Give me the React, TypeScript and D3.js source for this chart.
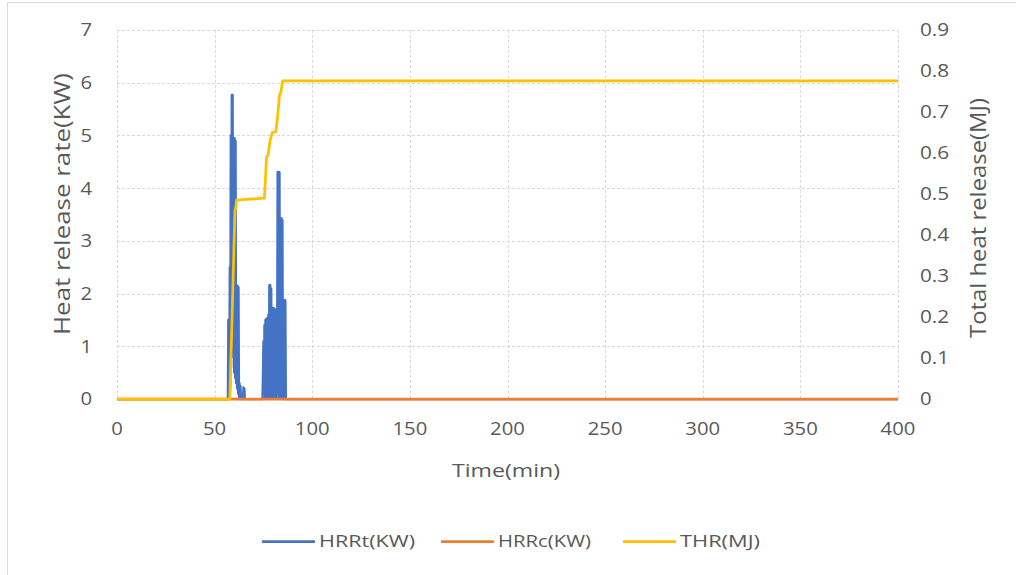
import React from "react";
import * as d3 from "d3";

const xTicks = [0, 50, 100, 150, 200, 250, 300, 350, 400];
const yLeftTicks = [0, 1, 2, 3, 4, 5, 6, 7];
const yRightTicks = [0, 0.1, 0.2, 0.3, 0.4, 0.5, 0.6, 0.7, 0.8, 0.9];

// HRRt (KW): time (min) and value
const hrrtTime = [
  0, 56.5, 56.75, 57.0, 57.25, 57.5, 57.75, 58.0, 58.25, 58.5, 58.75, 59.0, 59.25, 59.5, 59.75, 60.0, 60.25, 60.5, 60.75,
  61.0, 61.25, 61.5, 61.75, 62.0, 62.25, 62.5, 62.75, 63.0, 63.25, 63.5, 64.5, 64.75, 65.0, 65.25, 65.5,
  74.5, 74.75, 75.0, 75.25, 75.5, 75.75, 76.0, 76.25, 76.5, 76.75, 77.0, 77.25, 77.5, 77.75, 78.0, 78.25, 78.5, 78.75,
  79.0, 79.25, 79.5, 79.75, 80.0, 80.25, 80.5, 80.75, 81.0, 81.25, 81.5, 81.75, 82.0, 82.25, 82.5, 82.75, 83.0, 83.25,
  83.5, 83.75, 84.0, 84.25, 84.5, 84.75, 85.0, 85.25, 85.5, 85.75, 86.0, 86.25, 86.5, 86.75,
  400,
];
const hrrtValue = [
  0, 0, 0, 1.5, 0, 0.3, 2.5, 0.2, 5.0, 0.6, 5.77, 0.8, 5.77, 1.0, 4.95, 0.5, 4.95, 0.4, 4.9,
  0.3, 2.15, 0.2, 2.15, 0.1, 2.12, 0, 0.3, 0, 0.25, 0, 0, 0.22, 0, 0.2, 0,
  0, 0.5, 1.1, 0.1, 1.4, 0, 1.5, 0.2, 1.53, 0, 1.53, 0.1, 1.6, 0, 2.16, 0.2, 2.16, 0,
  2.1, 0.1, 1.73, 0, 1.73, 0.2, 1.72, 0, 1.7, 0.1, 0.87, 0, 0.95, 4.31, 0.1, 4.31, 0, 4.3,
  0.2, 3.43, 0, 3.43, 0.1, 3.4, 0, 1.88, 0.1, 1.88, 0, 1.87, 0, 0,
  0,
];

// HRRc (KW)
const hrrcTime = [0, 400];
const hrrcValue = [0, 0];

// THR (MJ)
const thrTime = [0, 57.8, 59.5, 60.4, 60.8, 61.2, 75.5, 76.6, 77.4, 78.3, 79.5, 81.4, 82.3, 83.2, 84.0, 84.8, 400];
const thrValue = [0, 0, 0.3, 0.46, 0.465, 0.485, 0.49, 0.59, 0.595, 0.628, 0.65, 0.652, 0.69, 0.74, 0.75, 0.776, 0.776];

const seriesNames = ["HRRt(KW)", "HRRc(KW)", "THR(MJ)"];
const seriesColors = ["#4472C4", "#ED7D31", "#FFC000"];

const font = "'Open Sans', Lato, sans-serif";
const textColor = "#595959";
const gridColor = "#d9d9d9";

function numWidth(s: string) {
  let w = 0;
  for (const c of s) w += c === "." ? 6 : 11.6;
  return w;
}

export default function App() {
  const W = 1016;
  const H = 575;
  const left = 117;
  const right = 898;
  const top = 30;
  const bottom = 399;

  const x = d3.scaleLinear().domain([0, 400]).range([left, right]);
  const yL = d3.scaleLinear().domain([0, 7]).range([bottom, top]);
  const yR = d3.scaleLinear().domain([0, 0.9]).range([bottom, top]);

  const lineL = d3
    .line<[number, number]>()
    .x((d) => x(d[0]))
    .y((d) => yL(d[1]));
  const lineR = d3
    .line<[number, number]>()
    .x((d) => x(d[0]))
    .y((d) => yR(d[1]));

  const hrrt = hrrtTime.map((t, i) => [t, hrrtValue[i]] as [number, number]);
  const hrrc = hrrcTime.map((t, i) => [t, hrrcValue[i]] as [number, number]);
  const thr = thrTime.map((t, i) => [t, thrValue[i]] as [number, number]);

  const legendX = [262, 441, 623];
  const legendLen = [96, 93, 80];
  const fmtR = (v: number) => d3.format("~g")(+v.toFixed(1));

  const Num = ({ s, px, py, anchor }: { s: string; px: number; py: number; anchor: string }) => (
    <text
      x={px}
      y={py}
      dy="0.36em"
      textAnchor={anchor}
      fontFamily={font}
      fontSize={18}
      fill={textColor}
      textLength={numWidth(s)}
      lengthAdjust="spacingAndGlyphs"
    >
      {s}
    </text>
  );

  return (
    <div style={{ position: "absolute", left: 0, top: 0 }}>
      <svg width={W} height={H} style={{ display: "block", background: "#fff" }}>
        <rect x={7.5} y={2.5} width={W + 10} height={H + 10} fill="#fff" stroke={gridColor} />
        {/* grid */}
        {yLeftTicks.map((v) => (
          <line
            key={"gy" + v}
            x1={left}
            x2={right}
            y1={Math.round(yL(v)) + 0.5}
            y2={Math.round(yL(v)) + 0.5}
            stroke={gridColor}
            strokeDasharray="3,2"
          />
        ))}
        {xTicks.map((v) => (
          <line
            key={"gx" + v}
            x1={Math.round(x(v)) + 0.5}
            x2={Math.round(x(v)) + 0.5}
            y1={top}
            y2={bottom}
            stroke={gridColor}
            strokeDasharray="3,2"
          />
        ))}
        {/* series */}
        <path d={lineL(hrrt) || ""} fill="none" stroke={seriesColors[0]} strokeWidth={2.25} strokeLinejoin="round" />
        <path d={lineL(hrrc) || ""} fill="none" stroke={seriesColors[1]} strokeWidth={2.75} />
        <path d={lineR(thr) || ""} fill="none" stroke={seriesColors[2]} strokeWidth={2.75} strokeLinejoin="round" />
        {/* ticks */}
        {yLeftTicks.map((v) => (
          <Num key={"yl" + v} s={String(v)} px={92} py={yL(v)} anchor="end" />
        ))}
        {yRightTicks.map((v) => (
          <Num key={"yr" + v} s={fmtR(v)} px={920} py={yR(v)} anchor="start" />
        ))}
        {xTicks.map((v) => (
          <Num key={"xt" + v} s={String(v)} px={x(v)} py={429} anchor="middle" />
        ))}
        {/* axis titles */}
        <text
          x={506}
          y={471}
          dy="0.35em"
          textAnchor="middle"
          fontFamily={font}
          fontSize={18}
          fill={textColor}
          textLength={108}
          lengthAdjust="spacingAndGlyphs"
        >
          Time(min)
        </text>
        <g transform={`translate(62,204) scale(1.2,1) rotate(-90)`}>
          <text
            x={0}
            y={0}
            dy="0.35em"
            textAnchor="middle"
            fontFamily={font}
            fontSize={18}
            fill={textColor}
            textLength={262}
            lengthAdjust="spacingAndGlyphs"
          >
            Heat release rate(KW)
          </text>
        </g>
        <g transform={`translate(978,218) scale(1.2,1) rotate(-90)`}>
          <text
            x={0}
            y={0}
            dy="0.35em"
            textAnchor="middle"
            fontFamily={font}
            fontSize={18}
            fill={textColor}
            textLength={240}
            lengthAdjust="spacingAndGlyphs"
          >
            Total heat release(MJ)
          </text>
        </g>
        {/* legend */}
        {seriesNames.map((name, i) => (
          <g key={name}>
            <line x1={legendX[i]} x2={legendX[i] + 53} y1={541.5} y2={541.5} stroke={seriesColors[i]} strokeWidth={2.75} />
            <text
              x={legendX[i] + 57}
              y={541}
              dy="0.35em"
              fontFamily={font}
              fontSize={17}
              fill={textColor}
              textLength={legendLen[i]}
              lengthAdjust="spacingAndGlyphs"
            >
              {name}
            </text>
          </g>
        ))}
      </svg>
    </div>
  );
}
